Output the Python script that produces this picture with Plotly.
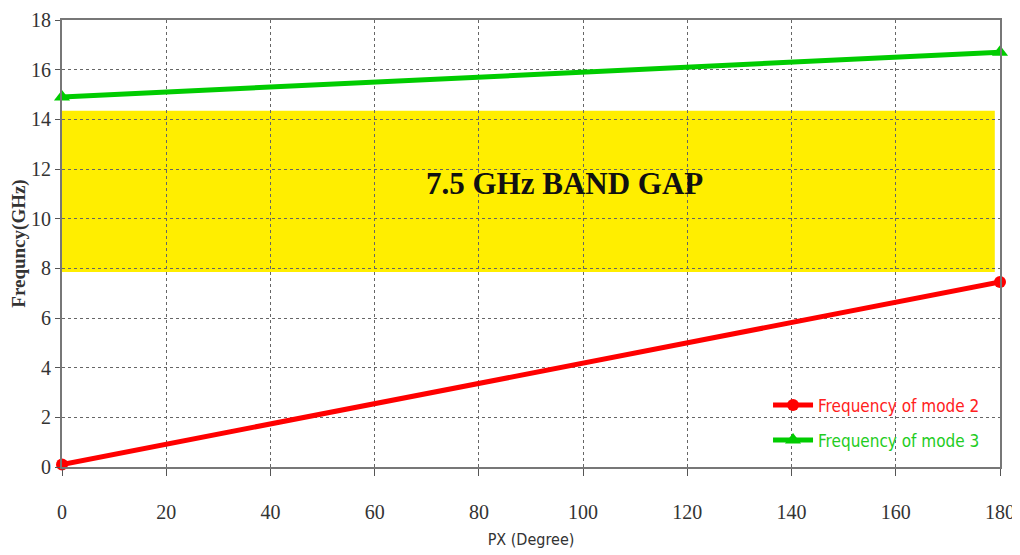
import plotly.graph_objects as go

px_deg = [0, 180]
mode2 = [0.1, 7.45]
mode3 = [14.9, 16.7]
gap_x = [0, 179]
gap_y = [7.85, 14.35]
label_text = "7.5 GHz BAND GAP"
x_ticks = [0, 20, 40, 60, 80, 100, 120, 140, 160, 180]
y_ticks = [0, 2, 4, 6, 8, 10, 12, 14, 16, 18]

fig = go.Figure()
fig.add_trace(go.Scatter(
    x=px_deg, y=mode2, mode="lines+markers", legendgroup="m2",
    name="<span style='color:#ff2020'>Frequency of mode 2</span>",
    line=dict(color="#ff0000", width=5), cliponaxis=False,
    marker=dict(symbol="circle", size=12, color="#ff0000"),
))
fig.add_trace(go.Scatter(
    x=px_deg, y=mode3, mode="lines+markers", legendgroup="m3",
    name="<span style='color:#22cc22'>Frequency of mode 3</span>",
    line=dict(color="#00cc00", width=5), cliponaxis=False,
    marker=dict(symbol="triangle-up", size=14, color="#00cc00"),
))

fig.add_shape(type="rect", xref="x", yref="y",
              x0=gap_x[0], x1=gap_x[1], y0=gap_y[0], y1=gap_y[1],
              fillcolor="#ffee00", line=dict(width=0), layer="below")

fig.add_annotation(x=96.5, y=11.4, xref="x", yref="y", text="<b>" + label_text + "</b>",
                   showarrow=False,
                   font=dict(family="Liberation Serif", size=31, color="#111111"))

fig.update_layout(
    width=1012, height=547,
    margin=dict(l=54, r=20, t=12, b=88),
    plot_bgcolor="white", paper_bgcolor="white",
    showlegend=True,
    legend=dict(x=0.7527, y=0.178, xanchor="left", yanchor="top",
                bgcolor="rgba(0,0,0,0)", borderwidth=0,
                font=dict(family="DejaVu Sans Condensed", size=17),
                itemwidth=40, tracegroupgap=10),
)

fig.update_xaxes(
    range=[0, 180], tickvals=x_ticks, ticks="outside", ticklen=7, tickcolor="#555",
    showline=True, linecolor="#777", linewidth=2, mirror=True, automargin=False,
    showgrid=True, gridcolor="#666", griddash="dot", gridwidth=1, zeroline=False,
    ticklabelstandoff=19, ticklabeloverflow="allow",
    tickfont=dict(family="Liberation Serif", size=20, color="#333"),
    title=dict(text="PX (Degree)", font=dict(family="DejaVu Sans Condensed", size=16, color="#333"), standoff=12),
)
fig.update_yaxes(
    range=[0, 18], tickvals=y_ticks, ticks="outside", ticklen=5, tickcolor="#555",
    showline=True, linecolor="#777", linewidth=2, mirror=True, automargin=False,
    showgrid=True, gridcolor="#666", griddash="dot", gridwidth=1, zeroline=False,
    ticklabeloverflow="allow",
    tickfont=dict(family="Liberation Serif", size=20, color="#333"),
    title=dict(text="<b>Frequncy(GHz)</b>", font=dict(family="Liberation Serif", size=19, color="#333"), standoff=6),
)

fig.write_html("out.html")
